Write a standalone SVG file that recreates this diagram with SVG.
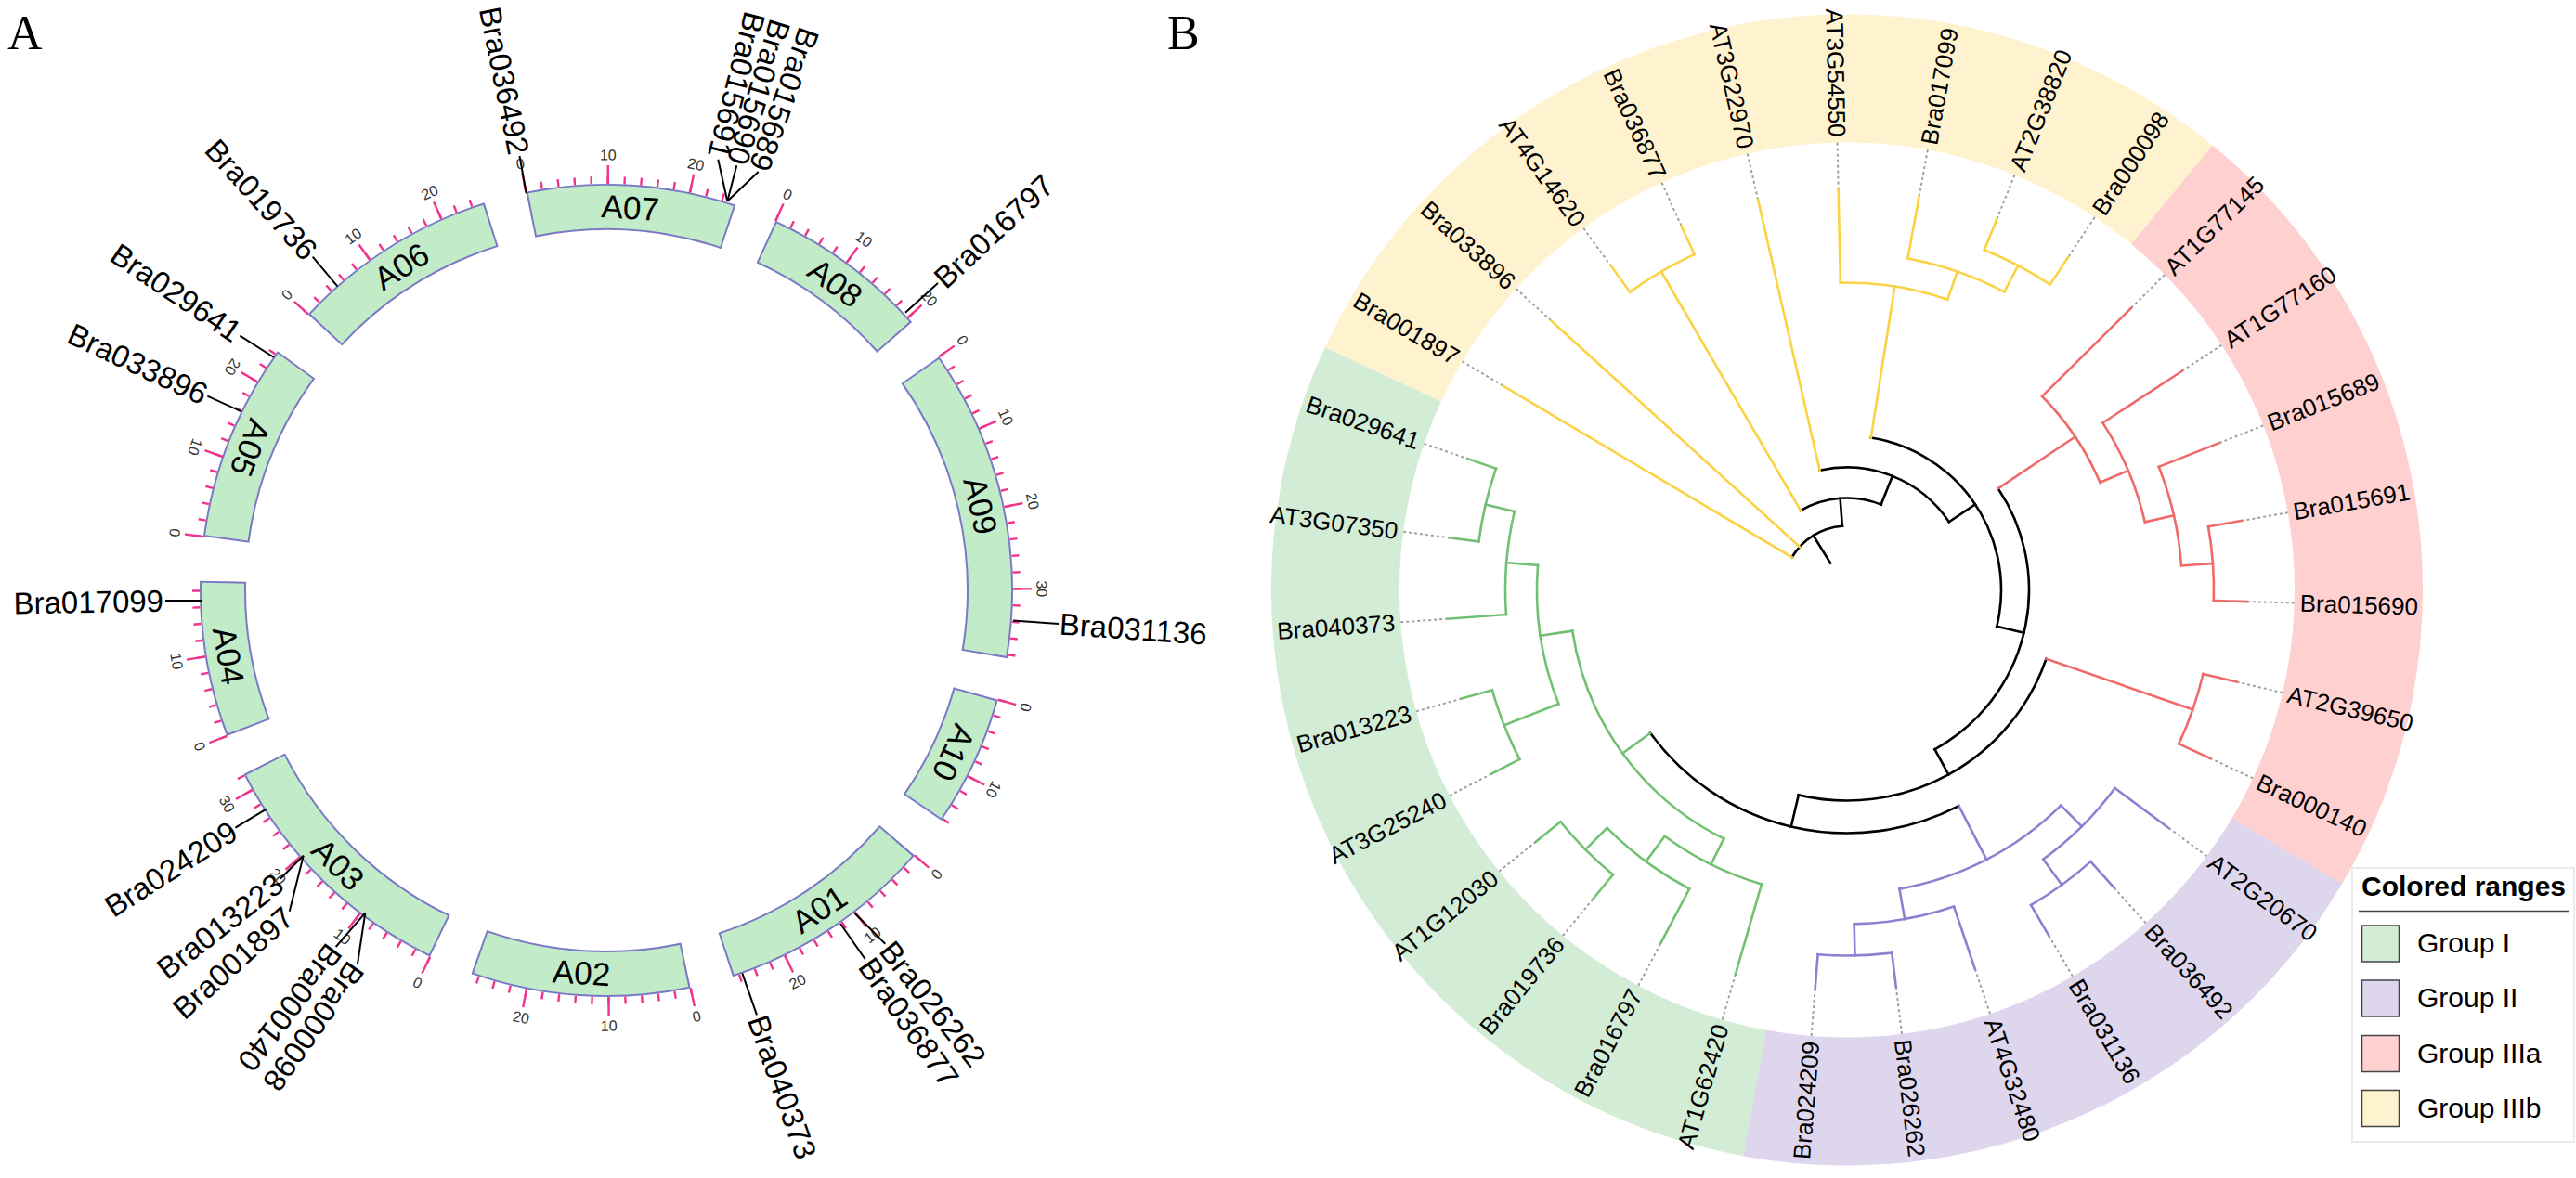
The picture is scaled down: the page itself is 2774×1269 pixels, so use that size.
<svg xmlns="http://www.w3.org/2000/svg" width="2774" height="1269" viewBox="0 0 2774 1269">
<style>
text{font-family:"Liberation Sans",Arial,Helvetica,sans-serif;fill:#000}
.pl{font-family:"Liberation Serif","Times New Roman",serif;font-size:52px}
.co{fill:none;stroke:#7a79c6;stroke-width:50}
.cf{fill:none;stroke:#c2ebc8;stroke-width:46}
.mi{fill:none;stroke:#f0338d;stroke-width:8}
.ma{fill:none;stroke:#f0338d;stroke-width:20}
.tl{font-size:16px;fill:#333;text-anchor:middle}
.cl{font-size:35px;text-anchor:middle}
.gl line{stroke:#000;stroke-width:2}
.gt{font-size:33px}
.rg{fill:none;stroke-width:138}
.br circle,.br line{fill:none;stroke-width:2.6;stroke-linecap:square}
.bk{stroke:#000}.ye{stroke:#fbd243}.rd{stroke:#f06a6a}.pu{stroke:#8e80d0}.gr{stroke:#72c173}
.ld line{stroke:#a0a0a0;stroke-width:2;stroke-dasharray:3 3}
.lb{font-size:26px}
.lg{font-size:30px}
</style>
<rect width="2774" height="1269" fill="#fff"/>
<text class="pl" x="8" y="53">A</text>
<text class="pl" x="1257" y="53">B</text>

<!-- Panel A chromosomes -->
<g id="panelA" transform="translate(653,636)">
 <g id="A07">
  <circle r="413" class="co" transform="rotate(-101.4)" stroke-dasharray="215.96 9999"/>
  <circle r="413" class="cf" transform="rotate(-101.123)" stroke-dasharray="211.96 9999"/>
  <circle r="442" class="mi" transform="rotate(-101.556)" stroke-dasharray="2.4 15.54 2.4 15.54 2.4 15.54 2.4 15.54 2.4 15.54 2.4 15.54 2.4 15.54 2.4 15.54 2.4 15.54 2.4 15.54 2.4 15.54 2.4 15.54 2.4 9999"/>
  <circle r="448" class="ma" transform="rotate(-101.556)" stroke-dasharray="2.4 88.54 2.4 88.54 2.4 9999"/>
  <text class="cl" transform="rotate(3.58) translate(0,-413)" dy="0.35em">A07</text>
  <text class="tl" transform="rotate(-11.4) translate(0,-469)" dy="0.35em">0</text>
  <text class="tl" transform="rotate(0.23) translate(0,-469)" dy="0.35em">10</text>
  <text class="tl" transform="rotate(11.86) translate(0,-469)" dy="0.35em">20</text>
 </g>
 <g id="A08">
  <circle r="413" class="co" transform="rotate(-65.4)" stroke-dasharray="173.72 9999"/>
  <circle r="413" class="cf" transform="rotate(-65.123)" stroke-dasharray="169.72 9999"/>
  <circle r="442" class="mi" transform="rotate(-65.556)" stroke-dasharray="2.4 15.54 2.4 15.54 2.4 15.54 2.4 15.54 2.4 15.54 2.4 15.54 2.4 15.54 2.4 15.54 2.4 15.54 2.4 15.54 2.4 9999"/>
  <circle r="448" class="ma" transform="rotate(-65.556)" stroke-dasharray="2.4 88.54 2.4 88.54 2.4 9999"/>
  <text class="cl" transform="rotate(36.65) translate(0,-413)" dy="0.35em">A08</text>
  <text class="tl" transform="rotate(24.6) translate(0,-469)" dy="0.35em">0</text>
  <text class="tl" transform="rotate(36.23) translate(0,-469)" dy="0.35em">10</text>
  <text class="tl" transform="rotate(47.86) translate(0,-469)" dy="0.35em">20</text>
 </g>
 <g id="A09">
  <circle r="413" class="co" transform="rotate(-35.1)" stroke-dasharray="322.21 9999"/>
  <circle r="413" class="cf" transform="rotate(-34.823)" stroke-dasharray="318.21 9999"/>
  <circle r="442" class="mi" transform="rotate(-35.256)" stroke-dasharray="2.4 15.54 2.4 15.54 2.4 15.54 2.4 15.54 2.4 15.54 2.4 15.54 2.4 15.54 2.4 15.54 2.4 15.54 2.4 15.54 2.4 15.54 2.4 15.54 2.4 15.54 2.4 15.54 2.4 15.54 2.4 15.54 2.4 15.54 2.4 15.54 2.4 15.54 2.4 9999"/>
  <circle r="448" class="ma" transform="rotate(-35.256)" stroke-dasharray="2.4 88.54 2.4 88.54 2.4 88.54 2.4 9999"/>
  <text class="cl" transform="rotate(77.25) translate(0,-413)" dy="0.35em">A09</text>
  <text class="tl" transform="rotate(54.9) translate(0,-469)" dy="0.35em">0</text>
  <text class="tl" transform="rotate(66.53) translate(0,-469)" dy="0.35em">10</text>
  <text class="tl" transform="rotate(78.16) translate(0,-469)" dy="0.35em">20</text>
  <text class="tl" transform="rotate(89.79) translate(0,-469)" dy="0.35em">30</text>
 </g>
 <g id="A10">
  <circle r="413" class="co" transform="rotate(15.6)" stroke-dasharray="136.24 9999"/>
  <circle r="413" class="cf" transform="rotate(15.877)" stroke-dasharray="132.24 9999"/>
  <circle r="442" class="mi" transform="rotate(15.444)" stroke-dasharray="2.4 15.54 2.4 15.54 2.4 15.54 2.4 15.54 2.4 15.54 2.4 15.54 2.4 15.54 2.4 15.54 2.4 9999"/>
  <circle r="448" class="ma" transform="rotate(15.444)" stroke-dasharray="2.4 88.54 2.4 9999"/>
  <text class="cl" transform="rotate(115.05) translate(0,-413)" dy="0.35em">A10</text>
  <text class="tl" transform="rotate(105.6) translate(0,-469)" dy="0.35em">0</text>
  <text class="tl" transform="rotate(117.23) translate(0,-469)" dy="0.35em">10</text>
 </g>
 <g id="A01">
  <circle r="413" class="co" transform="rotate(40.7)" stroke-dasharray="224.90 9999"/>
  <circle r="413" class="cf" transform="rotate(40.977)" stroke-dasharray="220.90 9999"/>
  <circle r="442" class="mi" transform="rotate(40.544)" stroke-dasharray="2.4 15.54 2.4 15.54 2.4 15.54 2.4 15.54 2.4 15.54 2.4 15.54 2.4 15.54 2.4 15.54 2.4 15.54 2.4 15.54 2.4 15.54 2.4 15.54 2.4 15.54 2.4 9999"/>
  <circle r="448" class="ma" transform="rotate(40.544)" stroke-dasharray="2.4 88.54 2.4 88.54 2.4 9999"/>
  <text class="cl" transform="rotate(146.3) translate(0,-413) rotate(180)" dy="0.35em">A01</text>
  <text class="tl" transform="rotate(130.7) translate(0,-469) rotate(180)" dy="0.35em">0</text>
  <text class="tl" transform="rotate(142.33) translate(0,-469) rotate(180)" dy="0.35em">10</text>
  <text class="tl" transform="rotate(153.96) translate(0,-469) rotate(180)" dy="0.35em">20</text>
 </g>
 <g id="A02">
  <circle r="413" class="co" transform="rotate(78.05)" stroke-dasharray="225.98 9999"/>
  <circle r="413" class="cf" transform="rotate(78.327)" stroke-dasharray="221.98 9999"/>
  <circle r="442" class="mi" transform="rotate(77.894)" stroke-dasharray="2.4 15.54 2.4 15.54 2.4 15.54 2.4 15.54 2.4 15.54 2.4 15.54 2.4 15.54 2.4 15.54 2.4 15.54 2.4 15.54 2.4 15.54 2.4 15.54 2.4 15.54 2.4 9999"/>
  <circle r="448" class="ma" transform="rotate(77.894)" stroke-dasharray="2.4 88.54 2.4 88.54 2.4 9999"/>
  <text class="cl" transform="rotate(183.73) translate(0,-413) rotate(180)" dy="0.35em">A02</text>
  <text class="tl" transform="rotate(168.05) translate(0,-469) rotate(180)" dy="0.35em">0</text>
  <text class="tl" transform="rotate(179.68) translate(0,-469) rotate(180)" dy="0.35em">10</text>
  <text class="tl" transform="rotate(191.31) translate(0,-469) rotate(180)" dy="0.35em">20</text>
 </g>
 <g id="A03">
  <circle r="413" class="co" transform="rotate(115.7)" stroke-dasharray="269.59 9999"/>
  <circle r="413" class="cf" transform="rotate(115.977)" stroke-dasharray="265.59 9999"/>
  <circle r="442" class="mi" transform="rotate(115.544)" stroke-dasharray="2.4 15.54 2.4 15.54 2.4 15.54 2.4 15.54 2.4 15.54 2.4 15.54 2.4 15.54 2.4 15.54 2.4 15.54 2.4 15.54 2.4 15.54 2.4 15.54 2.4 15.54 2.4 15.54 2.4 15.54 2.4 15.54 2.4 9999"/>
  <circle r="448" class="ma" transform="rotate(115.544)" stroke-dasharray="2.4 88.54 2.4 88.54 2.4 88.54 2.4 9999"/>
  <text class="cl" transform="rotate(224.4) translate(0,-413) rotate(180)" dy="0.35em">A03</text>
  <text class="tl" transform="rotate(205.7) translate(0,-469) rotate(180)" dy="0.35em">0</text>
  <text class="tl" transform="rotate(217.33) translate(0,-469) rotate(180)" dy="0.35em">10</text>
  <text class="tl" transform="rotate(228.96) translate(0,-469) rotate(180)" dy="0.35em">20</text>
  <text class="tl" transform="rotate(240.59) translate(0,-469) rotate(180)" dy="0.35em">30</text>
 </g>
 <g id="A04">
  <circle r="413" class="co" transform="rotate(159)" stroke-dasharray="161.10 9999"/>
  <circle r="413" class="cf" transform="rotate(159.277)" stroke-dasharray="157.10 9999"/>
  <circle r="442" class="mi" transform="rotate(158.844)" stroke-dasharray="2.4 15.54 2.4 15.54 2.4 15.54 2.4 15.54 2.4 15.54 2.4 15.54 2.4 15.54 2.4 15.54 2.4 15.54 2.4 9999"/>
  <circle r="448" class="ma" transform="rotate(158.844)" stroke-dasharray="2.4 88.54 2.4 9999"/>
  <text class="cl" transform="rotate(260.18) translate(0,-413) rotate(180)" dy="0.35em">A04</text>
  <text class="tl" transform="rotate(249) translate(0,-469) rotate(180)" dy="0.35em">0</text>
  <text class="tl" transform="rotate(260.63) translate(0,-469) rotate(180)" dy="0.35em">10</text>
 </g>
 <g id="A05">
  <circle r="413" class="co" transform="rotate(187.6)" stroke-dasharray="205.07 9999"/>
  <circle r="413" class="cf" transform="rotate(187.877)" stroke-dasharray="201.07 9999"/>
  <circle r="442" class="mi" transform="rotate(187.444)" stroke-dasharray="2.4 15.54 2.4 15.54 2.4 15.54 2.4 15.54 2.4 15.54 2.4 15.54 2.4 15.54 2.4 15.54 2.4 15.54 2.4 15.54 2.4 15.54 2.4 15.54 2.4 9999"/>
  <circle r="448" class="ma" transform="rotate(187.444)" stroke-dasharray="2.4 88.54 2.4 88.54 2.4 9999"/>
  <text class="cl" transform="rotate(291.83) translate(0,-413) rotate(180)" dy="0.35em">A05</text>
  <text class="tl" transform="rotate(277.6) translate(0,-469) rotate(180)" dy="0.35em">0</text>
  <text class="tl" transform="rotate(289.23) translate(0,-469) rotate(180)" dy="0.35em">10</text>
  <text class="tl" transform="rotate(300.86) translate(0,-469) rotate(180)" dy="0.35em">20</text>
 </g>
 <g id="A06">
  <circle r="413" class="co" transform="rotate(222.8)" stroke-dasharray="214.44 9999"/>
  <circle r="413" class="cf" transform="rotate(223.077)" stroke-dasharray="210.44 9999"/>
  <circle r="442" class="mi" transform="rotate(222.644)" stroke-dasharray="2.4 15.54 2.4 15.54 2.4 15.54 2.4 15.54 2.4 15.54 2.4 15.54 2.4 15.54 2.4 15.54 2.4 15.54 2.4 15.54 2.4 15.54 2.4 15.54 2.4 9999"/>
  <circle r="448" class="ma" transform="rotate(222.644)" stroke-dasharray="2.4 88.54 2.4 88.54 2.4 9999"/>
  <text class="cl" transform="rotate(327.68) translate(0,-413)" dy="0.35em">A06</text>
  <text class="tl" transform="rotate(312.8) translate(0,-469)" dy="0.35em">0</text>
  <text class="tl" transform="rotate(324.43) translate(0,-469)" dy="0.35em">10</text>
  <text class="tl" transform="rotate(336.06) translate(0,-469)" dy="0.35em">20</text>
 </g>
</g>

<!-- Panel A gene connectors -->
<g id="geneConnectors" class="gl">
 <line x1="566.7" y1="208.3" x2="559.5" y2="168"/>
 <line x1="783.3" y1="216.7" x2="773.3" y2="171.7"/>
 <line x1="783.3" y1="216.7" x2="793.3" y2="178.3"/>
 <line x1="783.3" y1="216.7" x2="816.7" y2="185"/>
 <line x1="975" y1="336.7" x2="1010" y2="305"/>
 <line x1="1091" y1="668.5" x2="1140" y2="672"/>
 <line x1="799.3" y1="1048.3" x2="815" y2="1093.3"/>
 <line x1="905" y1="995" x2="931.7" y2="1033.3"/>
 <line x1="920" y1="983.3" x2="953.3" y2="1016.7"/>
 <line x1="286.7" y1="871.7" x2="253.3" y2="891.7"/>
 <line x1="326.7" y1="921.7" x2="301.7" y2="946.7"/>
 <line x1="326.7" y1="921.7" x2="311.7" y2="981.7"/>
 <line x1="393.3" y1="983.3" x2="361.7" y2="1020"/>
 <line x1="393.3" y1="983.3" x2="385" y2="1038.3"/>
 <line x1="295" y1="385" x2="258.3" y2="361.7"/>
 <line x1="260" y1="443.3" x2="223.3" y2="426.7"/>
 <line x1="363.3" y1="308.3" x2="336.7" y2="276.7"/>
 <line x1="218" y1="647" x2="178" y2="647"/>
</g>

<!-- Panel A gene labels -->
<g id="g-Bra036492"><text class="gt" transform="translate(559,166) rotate(78.6)" text-anchor="end" dy="0.35em">Bra036492</text></g>
<g id="g-Bra015691"><text class="gt" transform="translate(773,170) rotate(104.5)" text-anchor="end" dy="0.35em">Bra015691</text></g>
<g id="g-Bra015690"><text class="gt" transform="translate(793.5,176.5) rotate(107)" text-anchor="end" dy="0.35em">Bra015690</text></g>
<g id="g-Bra015689"><text class="gt" transform="translate(817,183) rotate(110)" text-anchor="end" dy="0.35em">Bra015689</text></g>
<g id="g-Bra016797"><text class="gt" transform="translate(1011,304) rotate(-42.8)" dy="0.35em">Bra016797</text></g>
<g id="g-Bra031136"><text class="gt" transform="translate(1141,672) rotate(4)" dy="0.35em">Bra031136</text></g>
<g id="g-Bra040373"><text class="gt" transform="translate(815.5,1095) rotate(70.5)" dy="0.35em">Bra040373</text></g>
<g id="g-Bra036877"><text class="gt" transform="translate(932.5,1035) rotate(55)" dy="0.35em">Bra036877</text></g>
<g id="g-Bra026262"><text class="gt" transform="translate(954.5,1018) rotate(51.7)" dy="0.35em">Bra026262</text></g>
<g id="g-Bra024209"><text class="gt" transform="translate(252,892.5) rotate(-32.6)" text-anchor="end" dy="0.35em">Bra024209</text></g>
<g id="g-Bra013223"><text class="gt" transform="translate(300.5,948) rotate(-38)" text-anchor="end" dy="0.35em">Bra013223</text></g>
<g id="g-Bra001897"><text class="gt" transform="translate(311,983) rotate(-42)" text-anchor="end" dy="0.35em">Bra001897</text></g>
<g id="g-Bra000140"><text class="gt" transform="translate(361,1021) rotate(127.1)" dy="0.35em">Bra000140</text></g>
<g id="g-Bra000098"><text class="gt" transform="translate(384.5,1040) rotate(125.4)" dy="0.35em">Bra000098</text></g>
<g id="g-Bra029641"><text class="gt" transform="translate(256.5,360.5) rotate(34)" text-anchor="end" dy="0.35em">Bra029641</text></g>
<g id="g-Bra033896"><text class="gt" transform="translate(221.5,426) rotate(25)" text-anchor="end" dy="0.35em">Bra033896</text></g>
<g id="g-Bra019736"><text class="gt" transform="translate(335.5,275) rotate(48)" text-anchor="end" dy="0.35em">Bra019736</text></g>
<g id="g-Bra017099"><text class="gt" transform="translate(176,647) rotate(-1)" text-anchor="end" dy="0.35em">Bra017099</text></g>

<!-- Panel B -->
<g id="panelB" transform="translate(1989,635.5)">
 <g id="ranges">
  <circle r="551" class="rg" stroke="#fff2cf" transform="rotate(-155.10)" stroke-dasharray="1006 9999"/>
  <circle r="551" class="rg" stroke="#ffd0d0" transform="rotate(-50.59)" stroke-dasharray="782.7 9999"/>
  <circle r="551" class="rg" stroke="#ded6ed" transform="rotate(30.70)" stroke-dasharray="671 9999"/>
  <circle r="551" class="rg" stroke="#d3ecd5" transform="rotate(100.38)" stroke-dasharray="1005.2 9999"/>
 </g>
 <g id="treeConnectors">
  <g class="ld">
   <line y1="-431" y2="-485" transform="rotate(-59.30)"/>
   <line y1="-431" y2="-485" transform="rotate(-47.69)"/>
   <line y1="-431" y2="-485" transform="rotate(-36.07)"/>
   <line y1="-431" y2="-485" transform="rotate(-24.46)"/>
   <line y1="-431" y2="-485" transform="rotate(-12.85)"/>
   <line y1="-431" y2="-485" transform="rotate(-1.24)"/>
   <line y1="-431" y2="-485" transform="rotate(10.38)"/>
   <line y1="-431" y2="-485" transform="rotate(21.99)"/>
   <line y1="-431" y2="-485" transform="rotate(33.60)"/>
   <line y1="-431" y2="-485" transform="rotate(45.22)"/>
   <line y1="-431" y2="-485" transform="rotate(56.83)"/>
   <line y1="-431" y2="-485" transform="rotate(68.44)"/>
   <line y1="-431" y2="-485" transform="rotate(80.05)"/>
   <line y1="-431" y2="-485" transform="rotate(91.67)"/>
   <line y1="-431" y2="-485" transform="rotate(103.28)"/>
   <line y1="-431" y2="-485" transform="rotate(114.89)"/>
   <line y1="-431" y2="-485" transform="rotate(126.51)"/>
   <line y1="-431" y2="-485" transform="rotate(138.12)"/>
   <line y1="-431" y2="-485" transform="rotate(149.73)"/>
   <line y1="-431" y2="-485" transform="rotate(161.35)"/>
   <line y1="-431" y2="-485" transform="rotate(172.96)"/>
   <line y1="-431" y2="-485" transform="rotate(184.57)"/>
   <line y1="-431" y2="-485" transform="rotate(196.18)"/>
   <line y1="-431" y2="-485" transform="rotate(207.80)"/>
   <line y1="-431" y2="-485" transform="rotate(219.41)"/>
   <line y1="-431" y2="-485" transform="rotate(231.02)"/>
   <line y1="-431" y2="-485" transform="rotate(242.64)"/>
   <line y1="-431" y2="-485" transform="rotate(254.25)"/>
   <line y1="-431" y2="-485" transform="rotate(265.86)"/>
   <line y1="-431" y2="-485" transform="rotate(277.48)"/>
   <line y1="-431" y2="-485" transform="rotate(289.09)"/>
  </g>
  <g class="br bk">
   <circle r="69" transform="rotate(-149.30)" stroke-dasharray="66.26 9999"/>
   <circle r="99" transform="rotate(-120.27)" stroke-dasharray="89.83 9999"/>
   <circle r="132" transform="rotate(-102.85)" stroke-dasharray="159.29 9999"/>
   <circle r="166" transform="rotate(-81.07)" stroke-dasharray="274.43 9999"/>
   <circle r="196" transform="rotate(-33.89)" stroke-dasharray="325.26 9999"/>
   <circle r="227" transform="rotate(19.09)" stroke-dasharray="333.59 9999"/>
   <circle r="262" transform="rotate(62.64)" stroke-dasharray="371.77 9999"/>
   <line y1="-34" y2="-69" transform="rotate(-31.79)"/>
   <line y1="-69" y2="-99" transform="rotate(-4.28)"/>
   <line y1="-99" y2="-132" transform="rotate(21.72)"/>
   <line y1="-132" y2="-166" transform="rotate(56.29)"/>
   <line y1="-166" y2="-196" transform="rotate(103.65)"/>
   <line y1="-196" y2="-227" transform="rotate(151.19)"/>
   <line y1="-227" y2="-262" transform="rotate(193.29)"/>
  </g>
  <g class="br ye">
   <line y1="-69" y2="-431" transform="rotate(-59.30)"/>
   <line y1="-69" y2="-431" transform="rotate(-47.69)"/>
   <line y1="-99" y2="-397" transform="rotate(-30.27)"/>
   <line y1="-132" y2="-431" transform="rotate(-12.85)"/>
   <line y1="-166" y2="-331" transform="rotate(8.93)"/>
   <line y1="-397" y2="-431" transform="rotate(-36.07)"/>
   <line y1="-397" y2="-431" transform="rotate(-24.46)"/>
   <line y1="-331" y2="-431" transform="rotate(-1.24)"/>
   <line y1="-331" y2="-363" transform="rotate(19.09)"/>
   <line y1="-363" y2="-431" transform="rotate(10.38)"/>
   <line y1="-363" y2="-395" transform="rotate(27.80)"/>
   <line y1="-395" y2="-431" transform="rotate(21.99)"/>
   <line y1="-395" y2="-431" transform="rotate(33.60)"/>
   <circle r="397" transform="rotate(-126.07)" stroke-dasharray="80.45 9999"/>
   <circle r="331" transform="rotate(-91.24)" stroke-dasharray="117.45 9999"/>
   <circle r="363" transform="rotate(-79.62)" stroke-dasharray="110.37 9999"/>
   <circle r="395" transform="rotate(-68.01)" stroke-dasharray="80.04 9999"/>
  </g>
  <g class="br rd">
   <line y1="-196" y2="-296" transform="rotate(56.11)"/>
   <line y1="-227" y2="-394" transform="rotate(109.09)"/>
   <line y1="-296" y2="-431" transform="rotate(45.22)"/>
   <line y1="-296" y2="-329" transform="rotate(66.99)"/>
   <line y1="-329" y2="-431" transform="rotate(56.83)"/>
   <line y1="-329" y2="-361" transform="rotate(77.15)"/>
   <line y1="-361" y2="-431" transform="rotate(68.44)"/>
   <line y1="-361" y2="-395" transform="rotate(85.86)"/>
   <line y1="-395" y2="-431" transform="rotate(80.05)"/>
   <line y1="-395" y2="-431" transform="rotate(91.67)"/>
   <line y1="-394" y2="-431" transform="rotate(103.28)"/>
   <line y1="-394" y2="-431" transform="rotate(114.89)"/>
   <circle r="296" transform="rotate(-44.78)" stroke-dasharray="112.47 9999"/>
   <circle r="329" transform="rotate(-33.17)" stroke-dasharray="116.68 9999"/>
   <circle r="361" transform="rotate(-21.56)" stroke-dasharray="109.76 9999"/>
   <circle r="395" transform="rotate(-9.95)" stroke-dasharray="80.11 9999"/>
   <circle r="394" transform="rotate(13.28)" stroke-dasharray="79.84 9999"/>
  </g>
  <g class="br pu">
   <line y1="-262" y2="-327" transform="rotate(152.64)"/>
   <line y1="-327" y2="-359" transform="rotate(135.22)"/>
   <line y1="-327" y2="-360" transform="rotate(170.06)"/>
   <line y1="-359" y2="-431" transform="rotate(126.51)"/>
   <line y1="-359" y2="-393" transform="rotate(143.93)"/>
   <line y1="-393" y2="-431" transform="rotate(138.12)"/>
   <line y1="-393" y2="-431" transform="rotate(149.73)"/>
   <line y1="-360" y2="-431" transform="rotate(161.35)"/>
   <line y1="-360" y2="-394" transform="rotate(178.77)"/>
   <line y1="-394" y2="-431" transform="rotate(172.96)"/>
   <line y1="-394" y2="-431" transform="rotate(184.57)"/>
   <circle r="327" transform="rotate(45.22)" stroke-dasharray="198.84 9999"/>
   <circle r="359" transform="rotate(36.51)" stroke-dasharray="109.15 9999"/>
   <circle r="393" transform="rotate(48.12)" stroke-dasharray="79.63 9999"/>
   <circle r="360" transform="rotate(71.35)" stroke-dasharray="109.45 9999"/>
   <circle r="394" transform="rotate(82.96)" stroke-dasharray="79.84 9999"/>
  </g>
  <g class="br gr">
   <line y1="-262" y2="-299" transform="rotate(233.94)"/>
   <line y1="-299" y2="-330" transform="rotate(206.35)"/>
   <line y1="-299" y2="-334" transform="rotate(261.52)"/>
   <line y1="-330" y2="-431" transform="rotate(196.18)"/>
   <line y1="-330" y2="-364" transform="rotate(216.51)"/>
   <line y1="-364" y2="-431" transform="rotate(207.80)"/>
   <line y1="-364" y2="-397" transform="rotate(225.22)"/>
   <line y1="-397" y2="-431" transform="rotate(219.41)"/>
   <line y1="-397" y2="-431" transform="rotate(231.02)"/>
   <line y1="-334" y2="-397" transform="rotate(248.45)"/>
   <line y1="-334" y2="-368" transform="rotate(274.58)"/>
   <line y1="-397" y2="-431" transform="rotate(242.64)"/>
   <line y1="-397" y2="-431" transform="rotate(254.25)"/>
   <line y1="-368" y2="-431" transform="rotate(265.86)"/>
   <line y1="-368" y2="-400" transform="rotate(283.29)"/>
   <line y1="-400" y2="-431" transform="rotate(277.48)"/>
   <line y1="-400" y2="-431" transform="rotate(289.09)"/>
   <circle r="299" transform="rotate(116.35)" stroke-dasharray="287.91 9999"/>
   <circle r="330" transform="rotate(106.18)" stroke-dasharray="117.09 9999"/>
   <circle r="364" transform="rotate(117.80)" stroke-dasharray="110.67 9999"/>
   <circle r="397" transform="rotate(129.41)" stroke-dasharray="80.45 9999"/>
   <circle r="334" transform="rotate(158.45)" stroke-dasharray="152.32 9999"/>
   <circle r="397" transform="rotate(152.64)" stroke-dasharray="80.45 9999"/>
   <circle r="368" transform="rotate(175.86)" stroke-dasharray="111.95 9999"/>
   <circle r="400" transform="rotate(187.48)" stroke-dasharray="81.05 9999"/>
  </g>
 </g>
 <g id="leaves" class="lb">
  <g id="t-Bra001897"><text transform="rotate(-59.30) translate(0,-488) rotate(90)" text-anchor="end" dy="0.35em">Bra001897</text></g>
  <g id="t-Bra033896"><text transform="rotate(-47.69) translate(0,-488) rotate(90)" text-anchor="end" dy="0.35em">Bra033896</text></g>
  <g id="t-AT4G14620"><text transform="rotate(-36.07) translate(0,-488) rotate(90)" text-anchor="end" dy="0.35em">AT4G14620</text></g>
  <g id="t-Bra036877"><text transform="rotate(-24.46) translate(0,-488) rotate(90)" text-anchor="end" dy="0.35em">Bra036877</text></g>
  <g id="t-AT3G22970"><text transform="rotate(-12.85) translate(0,-488) rotate(90)" text-anchor="end" dy="0.35em">AT3G22970</text></g>
  <g id="t-AT3G54550"><text transform="rotate(-1.24) translate(0,-488) rotate(90)" text-anchor="end" dy="0.35em">AT3G54550</text></g>
  <g id="t-Bra017099"><text transform="rotate(10.38) translate(0,-488) rotate(-90)" dy="0.35em">Bra017099</text></g>
  <g id="t-AT2G38820"><text transform="rotate(21.99) translate(0,-488) rotate(-90)" dy="0.35em">AT2G38820</text></g>
  <g id="t-Bra000098"><text transform="rotate(33.60) translate(0,-488) rotate(-90)" dy="0.35em">Bra000098</text></g>
  <g id="t-AT1G77145"><text transform="rotate(45.22) translate(0,-488) rotate(-90)" dy="0.35em">AT1G77145</text></g>
  <g id="t-AT1G77160"><text transform="rotate(56.83) translate(0,-488) rotate(-90)" dy="0.35em">AT1G77160</text></g>
  <g id="t-Bra015689"><text transform="rotate(68.44) translate(0,-488) rotate(-90)" dy="0.35em">Bra015689</text></g>
  <g id="t-Bra015691"><text transform="rotate(80.05) translate(0,-488) rotate(-90)" dy="0.35em">Bra015691</text></g>
  <g id="t-Bra015690"><text transform="rotate(91.67) translate(0,-488) rotate(-90)" dy="0.35em">Bra015690</text></g>
  <g id="t-AT2G39650"><text transform="rotate(103.28) translate(0,-488) rotate(-90)" dy="0.35em">AT2G39650</text></g>
  <g id="t-Bra000140"><text transform="rotate(114.89) translate(0,-488) rotate(-90)" dy="0.35em">Bra000140</text></g>
  <g id="t-AT2G20670"><text transform="rotate(126.51) translate(0,-488) rotate(-90)" dy="0.35em">AT2G20670</text></g>
  <g id="t-Bra036492"><text transform="rotate(138.12) translate(0,-488) rotate(-90)" dy="0.35em">Bra036492</text></g>
  <g id="t-Bra031136"><text transform="rotate(149.73) translate(0,-488) rotate(-90)" dy="0.35em">Bra031136</text></g>
  <g id="t-AT4G32480"><text transform="rotate(161.35) translate(0,-488) rotate(-90)" dy="0.35em">AT4G32480</text></g>
  <g id="t-Bra026262"><text transform="rotate(172.96) translate(0,-488) rotate(-90)" dy="0.35em">Bra026262</text></g>
  <g id="t-Bra024209"><text transform="rotate(184.57) translate(0,-488) rotate(90)" text-anchor="end" dy="0.35em">Bra024209</text></g>
  <g id="t-AT1G62420"><text transform="rotate(196.18) translate(0,-488) rotate(90)" text-anchor="end" dy="0.35em">AT1G62420</text></g>
  <g id="t-Bra016797"><text transform="rotate(207.80) translate(0,-488) rotate(90)" text-anchor="end" dy="0.35em">Bra016797</text></g>
  <g id="t-Bra019736"><text transform="rotate(219.41) translate(0,-488) rotate(90)" text-anchor="end" dy="0.35em">Bra019736</text></g>
  <g id="t-AT1G12030"><text transform="rotate(231.02) translate(0,-488) rotate(90)" text-anchor="end" dy="0.35em">AT1G12030</text></g>
  <g id="t-AT3G25240"><text transform="rotate(242.64) translate(0,-488) rotate(90)" text-anchor="end" dy="0.35em">AT3G25240</text></g>
  <g id="t-Bra013223"><text transform="rotate(254.25) translate(0,-488) rotate(90)" text-anchor="end" dy="0.35em">Bra013223</text></g>
  <g id="t-Bra040373"><text transform="rotate(265.86) translate(0,-488) rotate(90)" text-anchor="end" dy="0.35em">Bra040373</text></g>
  <g id="t-AT3G07350"><text transform="rotate(277.48) translate(0,-488) rotate(90)" text-anchor="end" dy="0.35em">AT3G07350</text></g>
  <g id="t-Bra029641"><text transform="rotate(289.09) translate(0,-488) rotate(90)" text-anchor="end" dy="0.35em">Bra029641</text></g>
 </g>
</g>

<!-- Legend -->
<g id="legend">
 <rect x="2533" y="935" width="239" height="295" fill="#fff" stroke="#e4e4e4" stroke-width="1.5"/>
 <text x="2543" y="965" font-size="30" font-weight="bold">Colored ranges</text>
 <line x1="2540" y1="981.5" x2="2766" y2="981.5" stroke="#444" stroke-width="1.5"/>
 <rect x="2543.5" y="997" width="40" height="39" fill="#d3ecd5" stroke="#444" stroke-width="1.5"/>
 <text class="lg" x="2603" y="1026">Group I</text>
 <rect x="2543.5" y="1056" width="40" height="39" fill="#ded6ed" stroke="#444" stroke-width="1.5"/>
 <text class="lg" x="2603" y="1085">Group II</text>
 <rect x="2543.5" y="1115.5" width="40" height="39" fill="#ffd0d0" stroke="#444" stroke-width="1.5"/>
 <text class="lg" x="2603" y="1144.5">Group IIIa</text>
 <rect x="2543.5" y="1174.5" width="40" height="39" fill="#fff2cf" stroke="#444" stroke-width="1.5"/>
 <text class="lg" x="2603" y="1203.5">Group IIIb</text>
</g>
</svg>
